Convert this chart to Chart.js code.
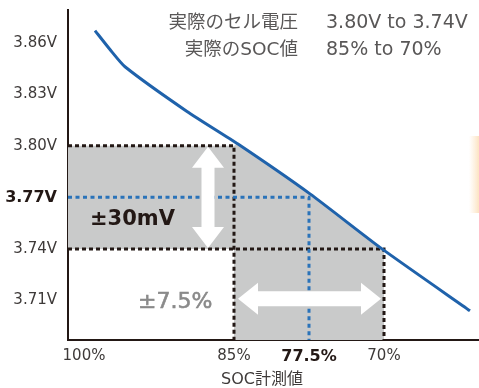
<!DOCTYPE html>
<html>
<head>
<meta charset="utf-8">
<script src="https://cdn.jsdelivr.net/npm/chart.js@4/dist/chart.umd.min.js"></script>
<style>
  html, body { margin: 0; padding: 0; background: #fff; }
  canvas { display: block; }
</style>
</head>
<body>
<canvas id="grafica" width="479" height="388"></canvas>
<script>
// curva real de la celda (SOC % -> tension V)
const socCurva  = [98.9, 97.4, 95.9, 89.7, 84.6, 77.4, 70.2, 61.4];
const voltCurva = [3.867, 3.856, 3.846, 3.820, 3.801, 3.772, 3.740, 3.704];

const ticksSOC  = [70, 77.5, 85, 100];
const ticksVolt = [3.71, 3.74, 3.77, 3.80, 3.83, 3.86];

const rangoVolt  = [3.80, 3.74];   // tension real
const rangoSOC   = [85, 70];       // SOC real
const centroVolt = 3.77;
const centroSOC  = 77.5;

const textoCaja = [["実際のセル電圧", "3.80V to 3.74V"], ["実際のSOC値", "85% to 70%"]];
const textoError = ["±30mV", "±7.5%"];
const tituloX = "SOC計測値";

// limites de los ejes
const socMax = 101.6, socMin = 60.5;
const voltMax = 3.879, voltMin = 3.687;

const FUENTE = '"DejaVu Sans", "Noto Sans CJK JP", sans-serif';

function puntos(xs, ys) { return xs.map((x, i) => ({ x: x, y: ys[i] })); }

const curva = puntos(socCurva, voltCurva);

const zonaGris = [{ x: socMax, y: rangoVolt[0] }, { x: rangoSOC[0], y: rangoVolt[0] }]
  .concat(curva.filter(p => p.x < rangoSOC[0] && p.x > rangoSOC[1]))
  .concat([
    { x: rangoSOC[1], y: rangoVolt[1] },
    { x: rangoSOC[1], y: voltMin },
    { x: rangoSOC[0], y: voltMin },
    { x: rangoSOC[0], y: rangoVolt[1] },
    { x: socMax, y: rangoVolt[1] }
  ]);

const lineaNegra1 = [{ x: socMax, y: rangoVolt[0] }, { x: rangoSOC[0], y: rangoVolt[0] }, { x: rangoSOC[0], y: voltMin }];
const lineaNegra2 = [{ x: socMax, y: rangoVolt[1] }, { x: rangoSOC[1], y: rangoVolt[1] }, { x: rangoSOC[1], y: voltMin }];
const lineaAzul   = [{ x: socMax, y: centroVolt }, { x: centroSOC, y: centroVolt }, { x: centroSOC, y: voltMin }];

function flechaVertical(ctx, cx, y1, y2, w, h, l) {
  ctx.beginPath();
  ctx.moveTo(cx, y1);
  ctx.lineTo(cx + h / 2, y1 + l);
  ctx.lineTo(cx + w / 2, y1 + l);
  ctx.lineTo(cx + w / 2, y2 - l);
  ctx.lineTo(cx + h / 2, y2 - l);
  ctx.lineTo(cx, y2);
  ctx.lineTo(cx - h / 2, y2 - l);
  ctx.lineTo(cx - w / 2, y2 - l);
  ctx.lineTo(cx - w / 2, y1 + l);
  ctx.lineTo(cx - h / 2, y1 + l);
  ctx.closePath();
  ctx.fill();
}

function flechaHorizontal(ctx, x1, x2, cy, w, h, l) {
  ctx.beginPath();
  ctx.moveTo(x1, cy);
  ctx.lineTo(x1 + l, cy - h / 2);
  ctx.lineTo(x1 + l, cy - w / 2);
  ctx.lineTo(x2 - l, cy - w / 2);
  ctx.lineTo(x2 - l, cy - h / 2);
  ctx.lineTo(x2, cy);
  ctx.lineTo(x2 - l, cy + h / 2);
  ctx.lineTo(x2 - l, cy + w / 2);
  ctx.lineTo(x1 + l, cy + w / 2);
  ctx.lineTo(x1 + l, cy + h / 2);
  ctx.closePath();
  ctx.fill();
}

const decoracion = {
  id: 'decoracion',
  beforeDatasetsDraw(chart) {
    const ctx = chart.ctx;
    // banda naranja del borde derecho
    ctx.save();
    const g = ctx.createLinearGradient(469, 0, 479, 0);
    g.addColorStop(0, 'rgba(253,232,205,0)');
    g.addColorStop(1, '#fce3c2');
    ctx.fillStyle = g;
    ctx.fillRect(469, 136, 10, 77);
    ctx.restore();
  },
  afterDatasetsDraw(chart) {
    const ctx = chart.ctx;
    const x = chart.scales.x, y = chart.scales.y;
    ctx.save();

    // flechas blancas
    ctx.fillStyle = '#ffffff';
    flechaVertical(ctx, x.getPixelForValue(87.6),
      y.getPixelForValue(rangoVolt[0]) + 1, y.getPixelForValue(rangoVolt[1]) - 1, 13, 32, 21);
    flechaHorizontal(ctx, x.getPixelForValue(rangoSOC[0]) + 4, x.getPixelForValue(rangoSOC[1]) - 3,
      y.getPixelForValue(3.711), 15, 32, 20);

    // textos de error
    ctx.textBaseline = 'middle';
    ctx.textAlign = 'left';
    ctx.fillStyle = '#231815';
    ctx.font = 'bold 21px ' + FUENTE;
    ctx.fillText(textoError[0], 90, 220);
    ctx.fillStyle = '#8a8a8a';
    ctx.font = '22px ' + FUENTE;
    ctx.lineWidth = 0.6;
    ctx.strokeStyle = '#8a8a8a';
    ctx.fillText(textoError[1], 138, 302);
    ctx.strokeText(textoError[1], 138, 302);

    // caja de texto superior
    ctx.fillStyle = '#595757';
    textoCaja.forEach((fila, i) => {
      const yy = 23 + i * 27;
      ctx.font = '18.5px ' + FUENTE;
      ctx.textAlign = 'right';
      ctx.fillText(fila[0], 298, yy);
      ctx.font = '19px ' + FUENTE;
      ctx.textAlign = 'left';
      ctx.fillText(fila[1], 326, yy);
    });

    // titulo eje X
    ctx.fillStyle = '#3e3a39';
    ctx.font = '16px ' + FUENTE;
    ctx.textAlign = 'center';
    ctx.fillText(tituloX, 262, 380);
    ctx.restore();
  }
};

var ctxL = document.getElementById('grafica').getContext('2d');
var miGrafica = new Chart(ctxL, {
  type: 'line',
  data: {
    datasets: [
      {
        label: 'curva',
        data: curva,
        borderColor: '#1f62ab',
        borderWidth: 3,
        pointRadius: 0,
        tension: 0.2,
        fill: false,
        order: 0
      },
      {
        label: 'azul',
        data: lineaAzul,
        borderColor: '#2a73b9',
        borderWidth: 3,
        borderDash: [4, 3.5],
        pointRadius: 0,
        fill: false,
        order: 1
      },
      {
        label: 'negra1',
        data: lineaNegra1,
        borderColor: '#231815',
        borderWidth: 3,
        borderDash: [4, 3],
        pointRadius: 0,
        fill: false,
        order: 2
      },
      {
        label: 'negra2',
        data: lineaNegra2,
        borderColor: '#231815',
        borderWidth: 3,
        borderDash: [4, 3],
        pointRadius: 0,
        fill: false,
        order: 2
      },
      {
        label: 'gris',
        data: zonaGris,
        borderWidth: 0,
        borderColor: 'rgba(0,0,0,0)',
        backgroundColor: '#c9caca',
        pointRadius: 0,
        tension: 0,
        fill: 'shape',
        order: 5
      }
    ]
  },
  options: {
    responsive: false,
    animation: false,
    events: [],
    layout: { padding: { top: 10, right: 0, left: 0, bottom: 0 } },
    plugins: {
      legend: { display: false },
      tooltip: { enabled: false },
      title: { display: false }
    },
    scales: {
      x: {
        type: 'linear',
        reverse: true,
        min: socMin,
        max: socMax,
        z: 1,
        grid: { display: false, drawTicks: false },
        border: { display: true, color: '#231815', width: 2 },
        afterBuildTicks: s => { s.ticks = ticksSOC.map(v => ({ value: v })); },
        afterFit: s => { s.height = 48; s.paddingLeft = 0; s.paddingRight = 0; },
        ticks: {
          autoSkip: false,
          maxRotation: 0,
          padding: 7,
          callback: v => v + '%',
          color: c => c.tick && c.tick.value === centroSOC ? '#231815' : '#3e3a39',
          font: c => c.tick && c.tick.value === centroSOC
            ? { family: FUENTE, size: 16, weight: 'bold' }
            : { family: FUENTE, size: 15 }
        }
      },
      y: {
        type: 'linear',
        min: voltMin,
        max: voltMax,
        z: 1,
        grid: { display: false, drawTicks: false },
        border: { display: true, color: '#231815', width: 2 },
        afterBuildTicks: s => { s.ticks = ticksVolt.map(v => ({ value: v })); },
        afterFit: s => { s.width = 68; s.paddingTop = 0; s.paddingBottom = 0; },
        ticks: {
          autoSkip: false,
          padding: 11,
          callback: v => v.toFixed(2) + 'V',
          color: c => c.tick && c.tick.value === centroVolt ? '#231815' : '#3e3a39',
          font: c => c.tick && c.tick.value === centroVolt
            ? { family: FUENTE, size: 16, weight: 'bold' }
            : { family: FUENTE, size: 15 }
        }
      }
    }
  },
  plugins: [decoracion]
});
</script>
</body>
</html>
